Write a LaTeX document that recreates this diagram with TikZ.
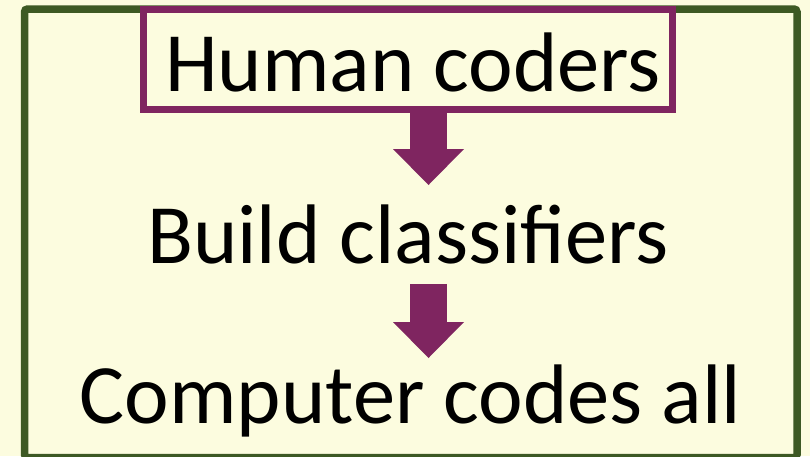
\documentclass[tikz,border=0pt]{standalone}
\usepackage{fontspec}
\setmainfont{Carlito}
\usepackage{tikz}
\usetikzlibrary{arrows.meta, positioning, calc}
\definecolor{pagecolor}{RGB}{252, 252, 223}
\definecolor{framecolor}{RGB}{61, 89, 36}
\definecolor{stepcolor}{RGB}{127, 37, 96}

\begin{document}
\begin{tikzpicture}[
    x=1pt, y=-1pt,
    frame/.style={draw=framecolor, line width=7.5pt, rounded corners=3pt},
    box/.style={draw=stepcolor, line width=7pt, minimum width=529.5pt, minimum height=100.5pt},
    txt/.style={inner sep=0pt, anchor=base, font=\fontsize{84.5}{84.5}\selectfont},
    flow/.style={draw=stepcolor, line width=37pt, -{Triangle[width=71pt, length=36pt, line width=0pt]}}
]
    % Page
    \useasboundingbox (0,0) rectangle (810,456);
    \fill[pagecolor] (0,0) rectangle (810,456);
    \draw[frame] (24.5,9) rectangle (797,457.5);

    % Steps
    \node[box] (human) at (408,59.25) {};
    \node[txt] (humantxt) at (413,91) {Human coders};
    \node[txt] (build) at (408,263) {Build classifiers};
    \node[txt] (computer) at (410.5,423) {Computer codes all};

    % Arrow tips
    \coordinate (tip1) at (428.5,185);
    \coordinate (tip2) at (428.5,358);

    % Connections
    \draw[flow] (human.south -| tip1) -- (tip1);
    \draw[flow, shorten <=20pt] (build.south -| tip2) -- (tip2);

\end{tikzpicture}
\end{document}
